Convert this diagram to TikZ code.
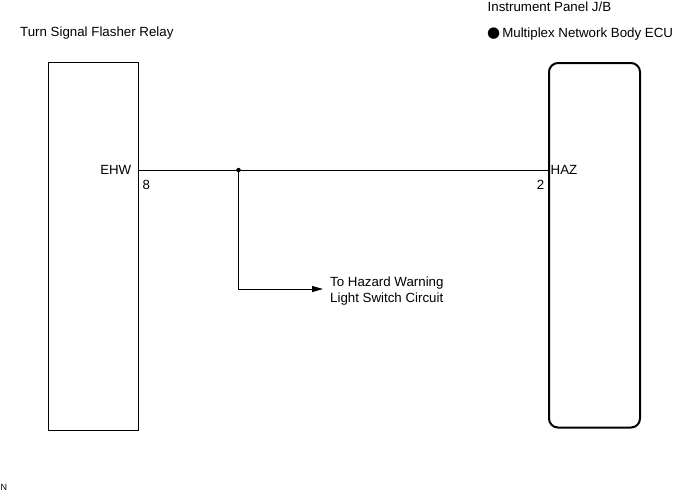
\documentclass[tikz,border=0pt]{standalone}
\usepackage{fontspec}
\setmainfont{Liberation Sans}
\newfontfamily\symfont{DejaVu Sans}
\usetikzlibrary{arrows.meta}
\begin{document}
\begin{tikzpicture}[x=1pt,y=-1pt,
  lbl/.style={inner sep=0pt,font=\fontsize{13.3}{15}\selectfont},
  wire/.style={line width=1pt},
  dot/.style={circle,fill=black,inner sep=0pt,minimum size=4.5pt}]
\useasboundingbox (0,0) rectangle (674,491);
% components
\node[draw,line width=1.4pt,minimum width=90pt,minimum height=367.5pt,inner sep=0pt,anchor=north west] (relay) at (47.5,62) {};
\node[draw,line width=2pt,rounded corners=9pt,minimum width=91pt,minimum height=364.5pt,inner sep=0pt,anchor=north west] (ecu) at (548,62) {};
% titles
\node[lbl,anchor=base west] (t1) at (20,36.5) {Turn Signal Flasher Relay};
\node[lbl,anchor=base west] (t2) at (487.5,11.5) {Instrument Panel J/B};
\node[lbl,anchor=base west] (t3) at (487,37.5) {{\symfont\fontsize{15}{16}\selectfont ●}\hspace{2pt}Multiplex Network Body ECU};
% pins
\coordinate (p8) at (137.5,170);
\coordinate (p2) at (548,170);
\node[lbl,anchor=base east] (ehw) at (131.5,174.5) {EHW};
\node[lbl,anchor=base west] (n8) at (142.5,189.5) {8};
\node[lbl,anchor=base east] (n2) at (544.5,189.5) {2};
\node[lbl,anchor=base west] (haz) at (550.5,174.5) {HAZ};
% wiring
\node[dot] (j) at (238.5,170) {};
\coordinate (bend) at (238.5,289);
\coordinate (tip) at (323,289);
\draw[wire] (p8) -- (p2);
\draw[wire,-{Triangle[length=11pt,width=6pt]}] (j.center) -- (bend) -- (tip);
\node[lbl,anchor=base west] (h1) at (330,286) {To Hazard Warning};
\node[lbl,anchor=base west] (h2) at (330,302) {Light Switch Circuit};
\node[inner sep=0pt,anchor=base west,font=\fontsize{9}{10}\selectfont] (nn) at (0.5,490) {N};
\end{tikzpicture}
\end{document}
